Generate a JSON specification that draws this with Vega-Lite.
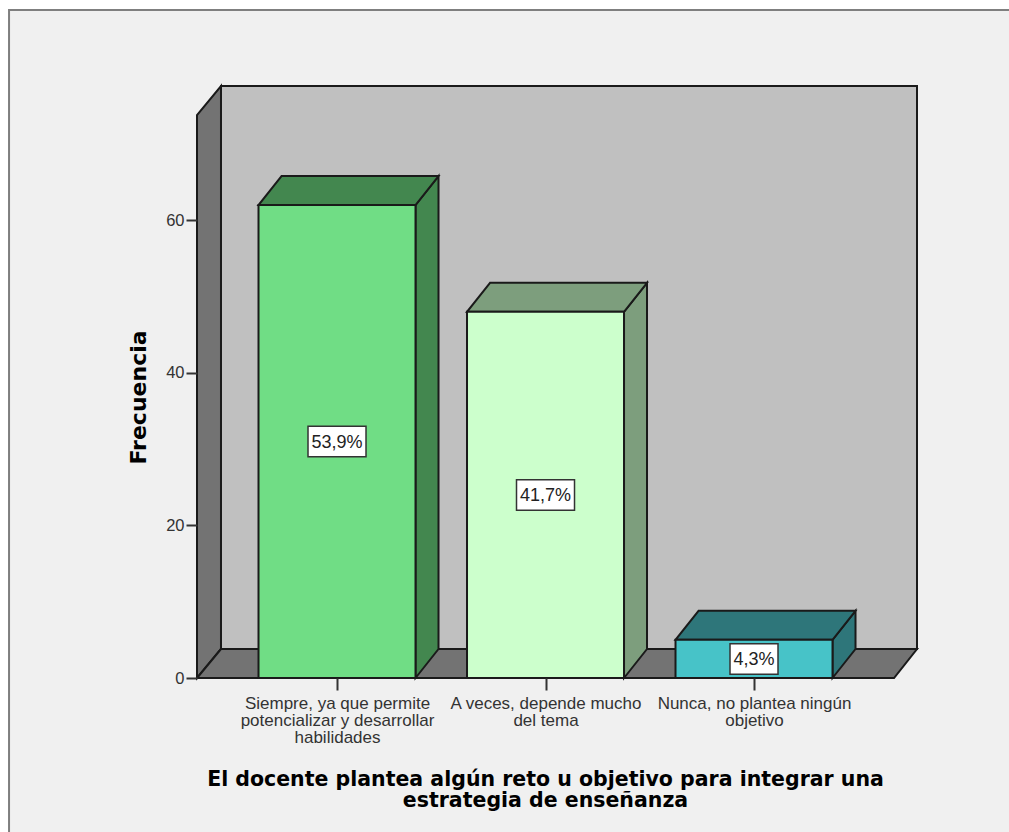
{
"$schema":"https://vega.github.io/schema/vega-lite/v6.json",
"width":720,"height":592,
"autosize":{"type":"none"},
"padding":{"left":197,"top":86,"right":92,"bottom":154},
"background":"#ffffff",
"view":{"stroke":null},
"config":{"font":"Liberation Sans"},
"datasets":{
"bars":[
{"i":0,"categoria":"Siempre, ya que permite potencializar y desarrollar habilidades","frecuencia":62,"pct":"53,9%"},
{"i":1,"categoria":"A veces, depende mucho del tema","frecuencia":48,"pct":"41,7%"},
{"i":2,"categoria":"Nunca, no plantea ningún objetivo","frecuencia":5,"pct":"4,3%"}],
"edge":[{"t":0},{"t":1}]
},
"layer":[
{"data":{"values":[{"frame":1}]},
 "mark":{"type":"rect","fill":"#f0f0f0","stroke":"#7f7f7f","strokeWidth":2},
 "encoding":{
  "x":{"datum":-1.573,"type":"quantitative",
   "scale":{"domain":[-0.6715,2.7817],"nice":false,"zero":false},
   "axis":{"values":[0,1,2],"grid":false,"domain":false,"zindex":1,"tickSize":12,"tickColor":"#333333","tickWidth":2,
    "labelExpr":"datum.value==0?['Siempre, ya que permite','potencializar y desarrollar','habilidades']:datum.value==1?['A veces, depende mucho','del tema']:['Nunca, no plantea ningún','objetivo']",
    "labelFont":"Liberation Sans","labelFontSize":17,"labelLimit":400,"labelColor":"#333333","labelLineHeight":17,"labelPadding":5,"labelOverlap":false,"labelBound":false,"labelFlush":false,"labelBaseline":"top",
    "title":["El docente plantea algún reto u objetivo para integrar una","estrategia de enseñanza"],
    "titleFont":"DejaVu Sans","titleFontSize":20.5,"titleFontWeight":"bold","titleColor":"#000000","titleLineHeight":21,"titleX":348,"titleY":101,"titleAnchor":"middle","titleBaseline":"middle"}},
  "x2":{"datum":3.4},
  "y":{"datum":87.55,"type":"quantitative",
   "scale":{"domain":[0,77.6],"nice":false,"zero":false},
   "axis":{"values":[0,20,40,60],"grid":false,"domain":false,"zindex":1,"tickSize":11,"tickColor":"#333333","tickWidth":2,
    "labelFont":"Liberation Sans","labelFontSize":16.5,"labelColor":"#333333","labelPadding":2,
    "title":"Frecuencia","titleFont":"DejaVu Sans","titleFontSize":22,"titleFontWeight":"bold","titleColor":"#000000","titleX":-59,"titleY":311,"titleAnchor":"middle","titleBaseline":"middle"}},
  "y2":{"datum":-21.2}
 }},
{"data":{"name":"edge"},
 "transform":[{"calculate":"-0.6715+datum.t*0.1151","as":"x"},{"calculate":"datum.t*3.8","as":"y"},{"calculate":"73.8+datum.t*3.8","as":"yt"}],
 "mark":{"type":"area","orient":"vertical","fill":"#737373","stroke":"#1a1a1a","strokeWidth":2},
 "encoding":{"x":{"field":"x","type":"quantitative"},"y":{"field":"y","type":"quantitative"},"y2":{"field":"yt"}}},
{"data":{"name":"edge"},
 "transform":[{"calculate":"-0.5564+datum.t*3.3381","as":"x"},{"calculate":"3.8","as":"y"},{"calculate":"77.6","as":"yt"}],
 "mark":{"type":"area","orient":"vertical","fill":"#c0c0c0","stroke":"#1a1a1a","strokeWidth":2},
 "encoding":{"x":{"field":"x","type":"quantitative"},"y":{"field":"y","type":"quantitative"},"y2":{"field":"yt"}}},
{"data":{"name":"edge"},
 "transform":[{"calculate":"datum.t*3.8","as":"y"},{"calculate":"-0.6715+datum.t*0.1151","as":"x"},{"calculate":"2.6715+datum.t*0.1102","as":"xr"}],
 "mark":{"type":"area","orient":"horizontal","fill":"#737373","stroke":"#1a1a1a","strokeWidth":2},
 "encoding":{"y":{"field":"y","type":"quantitative"},"x":{"field":"x","type":"quantitative"},"x2":{"field":"xr"}}},
{"data":{"name":"bars"},
 "transform":[{"calculate":"[0,1]","as":"t"},{"flatten":["t"]},
  {"calculate":"datum.i+0.3765+datum.t*0.1103","as":"x"},{"calculate":"datum.t*3.8","as":"y"},{"calculate":"datum.frecuencia+datum.t*3.8","as":"yt"}],
 "mark":{"type":"area","orient":"vertical","stroke":"#1a1a1a","strokeWidth":2},
 "encoding":{"x":{"field":"x","type":"quantitative"},"y":{"field":"y","type":"quantitative"},"y2":{"field":"yt"},
  "fill":{"field":"categoria","type":"nominal","legend":null,"scale":{"domain":["Siempre, ya que permite potencializar y desarrollar habilidades","A veces, depende mucho del tema","Nunca, no plantea ningún objetivo"],"range":["#43874f","#7d9e7d","#2e767a"]}}}},
{"data":{"name":"bars"},
 "transform":[{"calculate":"[0,1]","as":"t"},{"flatten":["t"]},
  {"calculate":"datum.frecuencia+datum.t*3.8","as":"y"},{"calculate":"datum.i-0.3765+datum.t*0.1103","as":"x"},{"calculate":"datum.i+0.3765+datum.t*0.1103","as":"xr"}],
 "mark":{"type":"area","orient":"horizontal","stroke":"#1a1a1a","strokeWidth":2},
 "encoding":{"y":{"field":"y","type":"quantitative"},"x":{"field":"x","type":"quantitative"},"x2":{"field":"xr"},
  "fill":{"field":"categoria","type":"nominal","legend":null,"scale":{"domain":["Siempre, ya que permite potencializar y desarrollar habilidades","A veces, depende mucho del tema","Nunca, no plantea ningún objetivo"],"range":["#43874f","#7d9e7d","#2e767a"]}}}},
{"data":{"name":"bars"},
 "transform":[{"calculate":"datum.i-0.3765","as":"x"},{"calculate":"datum.i+0.3765","as":"xr"}],
 "mark":{"type":"rect","stroke":"#1a1a1a","strokeWidth":2},
 "encoding":{"x":{"field":"x","type":"quantitative"},"x2":{"field":"xr"},"y":{"field":"frecuencia","type":"quantitative"},"y2":{"datum":0},
  "fill":{"field":"categoria","type":"nominal","legend":null,"scale":{"domain":["Siempre, ya que permite potencializar y desarrollar habilidades","A veces, depende mucho del tema","Nunca, no plantea ningún objetivo"],"range":["#70dd85","#ccffcc","#47c3c8"]}}}},
{"data":{"name":"bars"},
 "transform":[{"calculate":"(10*length(datum.pct)+8)/208.5/2","as":"hb"},{"calculate":"datum.i-datum.hb","as":"x"},{"calculate":"datum.i+datum.hb","as":"xr"},{"calculate":"datum.frecuencia/2-2","as":"ya"},{"calculate":"datum.frecuencia/2+2","as":"yb"}],
 "mark":{"type":"rect","fill":"#ffffff","stroke":"#333333","strokeWidth":1.5},
 "encoding":{"x":{"field":"x","type":"quantitative"},"x2":{"field":"xr"},"y":{"field":"ya","type":"quantitative"},"y2":{"field":"yb"}}},
{"data":{"name":"bars"},
 "transform":[{"calculate":"datum.frecuencia/2","as":"ym"}],
 "mark":{"type":"text","font":"Liberation Sans","fontSize":18,"fill":"#222222","align":"center","baseline":"middle","dy":1},
 "encoding":{"x":{"field":"i","type":"quantitative"},"y":{"field":"ym","type":"quantitative"},"text":{"field":"pct","type":"nominal"}}}
],
"resolve":{"scale":{"fill":"independent"}}
}
